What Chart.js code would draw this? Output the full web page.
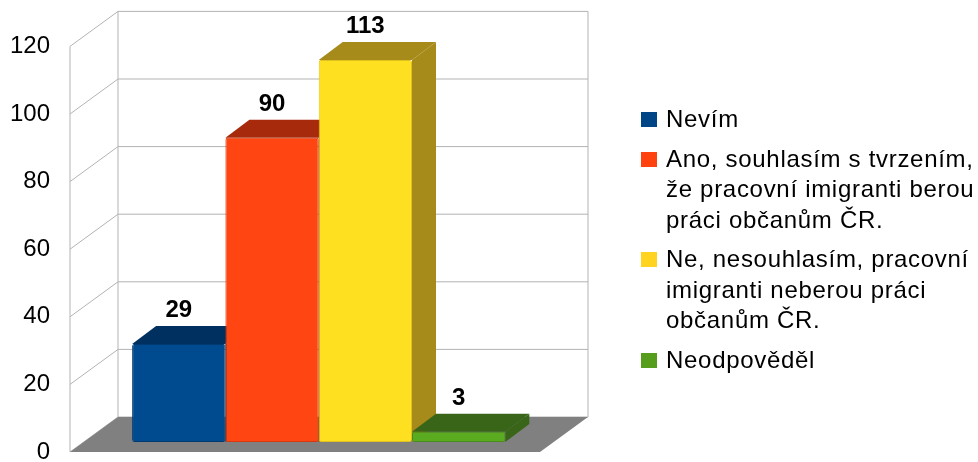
<!DOCTYPE html>
<html lang="cs">
<head>
    <meta charset="UTF-8">
    <title>Graf - pracovní imigranti</title>
    <script src="https://cdn.jsdelivr.net/npm/chart.js"></script>
    <style>
        body { margin: 0; background: #fff; overflow: hidden; }
        #wrap { position: relative; width: 978px; height: 462px; }
        #legend {
            position: absolute; left: 641px; top: 104px;
            font-family: "Liberation Sans", Arial, sans-serif;
            font-size: 24px; line-height: 30.5px; color: #000;
            letter-spacing: 0.7px; white-space: nowrap;
        }
        .item { display: flex; align-items: flex-start; margin-bottom: 9px; }
        .box { width: 16px; height: 15px; margin-top: 8px; margin-right: 9px; flex: none; }
    </style>
</head>
<body>
    <div id="wrap">
        <canvas id="graf" width="978" height="462"></canvas>
        <div id="legend"></div>
    </div>

    <script>
        // Data z grafu
        const kategorie = [''];
        const serie = [
            ['Nevím'],
            ['Ano, souhlasím s tvrzením,', 'že pracovní imigranti berou', 'práci občanům ČR.'],
            ['Ne, nesouhlasím, pracovní', 'imigranti neberou práci', 'občanům ČR.'],
            ['Neodpověděl']
        ];
        const hodnoty = [29, 90, 113, 3];
        const osaY = [0, 20, 40, 60, 80, 100, 120];

        // Barvy: čelo, horní/boční stěna, okraj
        const barvy = ['#004a8f', '#ff4512', '#ffe021', '#5aab20'];
        const barvyTop = ['#003060', '#a62a0b', '#a68a1a', '#386518'];
        const barvyOkraj = ['#003a70', '#d8380c', '#e0c21c', '#4a8c1a'];
        const legendaBarvy = ['#004586', '#ff420e', '#ffd320', '#579d1c'];

        // posun hloubky (px)
        const hloubkaX = 24, hloubkaY = -18;        // hloubka sloupce
        const predniX = -13.7, predniY = 10;        // přední hrana podlahy
        const zadniX = 34.3, zadniY = -25;          // zadní stěna

        const prostor3d = {
            id: 'prostor3d',
            beforeDatasetsDraw(chart) {
                const ctx = chart.ctx;
                const a = chart.chartArea;
                const y = chart.scales.y;
                const y0 = y.getPixelForValue(osaY[0]);
                const yMax = y.getPixelForValue(osaY[osaY.length - 1]);
                ctx.save();
                ctx.strokeStyle = '#b3b3b3';
                ctx.lineWidth = 1;

                // mřížka na zadní a levé stěně
                osaY.forEach(v => {
                    const py = y.getPixelForValue(v);
                    ctx.beginPath();
                    ctx.moveTo(a.left + zadniX, py + zadniY);
                    ctx.lineTo(a.right + zadniX, py + zadniY);
                    ctx.moveTo(a.left + predniX, py + predniY);
                    ctx.lineTo(a.left + zadniX, py + zadniY);
                    ctx.stroke();
                });
                ctx.beginPath();
                ctx.moveTo(a.left + predniX, y0 + predniY);
                ctx.lineTo(a.left + predniX, yMax + predniY);
                ctx.moveTo(a.left + zadniX, y0 + zadniY);
                ctx.lineTo(a.left + zadniX, yMax + zadniY);
                ctx.moveTo(a.right + zadniX, y0 + zadniY);
                ctx.lineTo(a.right + zadniX, yMax + zadniY);
                ctx.stroke();

                // podlaha
                ctx.fillStyle = '#808080';
                ctx.beginPath();
                ctx.moveTo(a.left + predniX, y0 + predniY);
                ctx.lineTo(a.right + predniX, y0 + predniY);
                ctx.lineTo(a.right + zadniX, y0 + zadniY);
                ctx.lineTo(a.left + zadniX, y0 + zadniY);
                ctx.closePath();
                ctx.fill();

                // horní a boční stěny sloupců, zleva doprava
                chart.data.datasets.forEach((ds, i) => {
                    chart.getDatasetMeta(i).data.forEach(bar => {
                        const l = bar.x - bar.width / 2, r = bar.x + bar.width / 2;
                        ctx.fillStyle = barvyTop[i];
                        ctx.beginPath();
                        ctx.moveTo(l, bar.y);
                        ctx.lineTo(r, bar.y);
                        ctx.lineTo(r + hloubkaX, bar.y + hloubkaY);
                        ctx.lineTo(l + hloubkaX, bar.y + hloubkaY);
                        ctx.closePath();
                        ctx.fill();
                        ctx.beginPath();
                        ctx.moveTo(r, bar.y);
                        ctx.lineTo(r + hloubkaX, bar.y + hloubkaY);
                        ctx.lineTo(r + hloubkaX, bar.base + hloubkaY);
                        ctx.lineTo(r, bar.base);
                        ctx.closePath();
                        ctx.fill();
                    });
                });
                ctx.restore();
            },
            afterDatasetsDraw(chart) {
                const ctx = chart.ctx;
                ctx.save();
                ctx.fillStyle = '#000';
                ctx.font = 'bold 24px "Liberation Sans", Arial, sans-serif';
                ctx.textAlign = 'center';
                ctx.textBaseline = 'alphabetic';
                chart.data.datasets.forEach((ds, i) => {
                    chart.getDatasetMeta(i).data.forEach((bar, j) => {
                        ctx.fillText(ds.data[j], bar.x, bar.y - 27);
                    });
                });
                ctx.restore();
            }
        };

        const graf = new Chart(document.getElementById('graf'), {
            type: 'bar',
            data: {
                labels: kategorie,
                datasets: serie.map((nazev, i) => ({
                    label: nazev,
                    data: [hodnoty[i]],
                    backgroundColor: barvy[i],
                    borderColor: barvyOkraj[i],
                    borderWidth: 1,
                    borderRadius: 2,
                    borderSkipped: false,
                    categoryPercentage: 0.794,
                    barPercentage: 1.0
                }))
            },
            options: {
                responsive: false,
                animation: false,
                layout: { padding: { left: 0, right: 424.3, top: 36.4, bottom: 20 } },
                plugins: {
                    legend: { display: false },
                    tooltip: { enabled: false }
                },
                scales: {
                    x: { display: false },
                    y: {
                        min: osaY[0],
                        max: osaY[osaY.length - 1],
                        afterFit: scale => {
                            scale.width = 83.7;
                            scale.paddingTop = 0;
                            scale.paddingBottom = 0;
                        },
                        afterBuildTicks: scale => { scale.ticks = osaY.map(v => ({ value: v })); },
                        ticks: {
                            color: '#000',
                            font: { family: '"Liberation Sans", Arial, sans-serif', size: 24 },
                            padding: 33.7,
                            labelOffset: 10
                        },
                        grid: { display: false, drawTicks: false },
                        border: { display: false }
                    }
                }
            },
            plugins: [prostor3d]
        });

        // Legenda
        const legenda = document.getElementById('legend');
        serie.forEach((radky, i) => {
            const polozka = document.createElement('div');
            polozka.className = 'item';
            const box = document.createElement('div');
            box.className = 'box';
            box.style.background = legendaBarvy[i];
            const text = document.createElement('div');
            text.innerHTML = radky.join('<br>');
            polozka.appendChild(box);
            polozka.appendChild(text);
            legenda.appendChild(polozka);
        });
    </script>
</body>
</html>
